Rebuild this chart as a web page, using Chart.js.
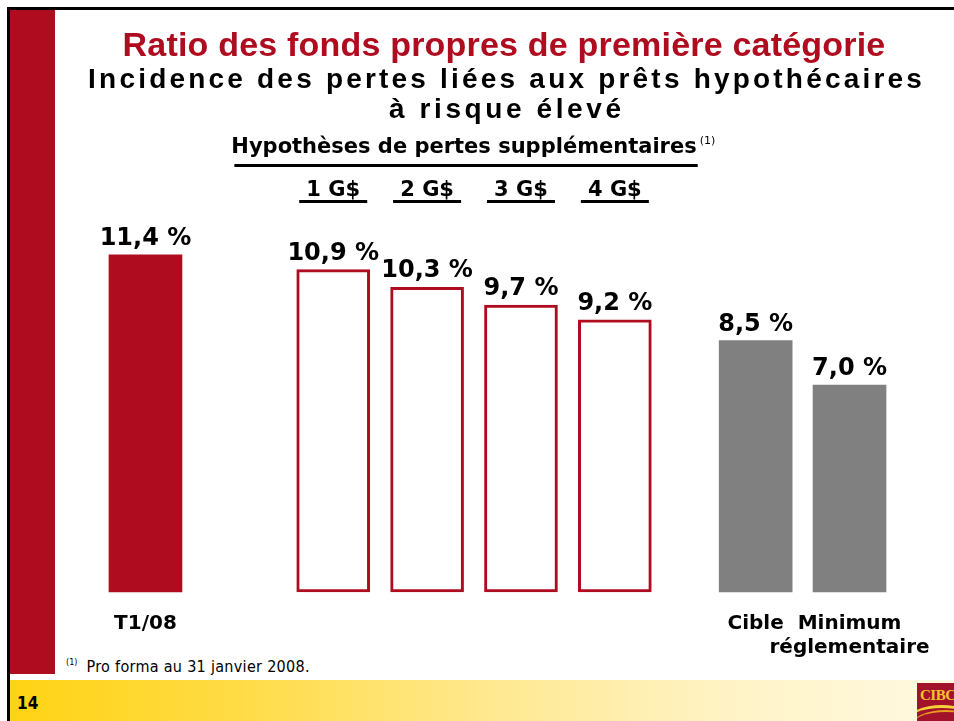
<!DOCTYPE html>
<html><head><meta charset="utf-8">
<script src="https://cdn.jsdelivr.net/npm/chart.js@4/dist/chart.umd.min.js"></script>
<style>
html,body{margin:0;padding:0;background:#fff;width:954px;height:721px;overflow:hidden;position:relative;font-family:"DejaVu Sans",sans-serif}
#frameTop{position:absolute;left:7px;top:7px;width:947px;height:3px;background:#000}
#frameLeft{position:absolute;left:7px;top:7px;width:3px;height:714px;background:#000}
#redBand{position:absolute;left:10px;top:10px;width:45px;height:664px;background:#AF0C1F}
#band{position:absolute;left:10px;top:680px;width:944px;height:41px;background:linear-gradient(to right,#FFD314 0%,#FFDC48 25%,#FFE88E 50%,#FFF3C4 75%,#FFF9E2 100%)}
#pageNo{position:absolute;left:17px;top:693px;font:bold 17px "DejaVu Sans Condensed",sans-serif;color:#000}
#foot{position:absolute;left:66px;top:657px;font:16px "DejaVu Sans Condensed",sans-serif;letter-spacing:0.3px;color:#000;white-space:nowrap}
#foot sup{font-size:9px;vertical-align:top;position:relative;top:0px;margin-right:9px;letter-spacing:0}
#logo{position:absolute;left:917px;top:683px;width:37px;height:38px;background:#A3122B;overflow:hidden}
#logo span{position:absolute;left:3px;top:4px;font:bold 15px "Liberation Serif",serif;color:#F2C230;letter-spacing:-0.5px}
#logo i{position:absolute;left:-10px;top:22px;width:70px;height:30px;border-top:3px solid #F5D23A;border-radius:50%}
#logo b{position:absolute;left:-6px;top:27px;width:70px;height:30px;border-top:2px solid #E8A020;border-radius:50%}
#wrap{position:absolute;left:56px;top:10px;width:898px;height:670px}
</style></head>
<body>
<div id="frameTop"></div><div id="frameLeft"></div><div id="redBand"></div>
<div id="band"></div>
<div id="pageNo">14</div>
<div id="foot"><sup>(1)</sup>Pro forma au 31 janvier 2008.</div>
<div id="logo"><span>CIBC</span><i></i><b></b></div>
<div id="wrap"><canvas id="c"></canvas></div>
<script>
// ---- data ----
const titleLine = 'Ratio des fonds propres de première catégorie';
const subtitleLines = ['Incidence des pertes liées aux prêts hypothécaires', 'à risque élevé'];
const scenarioHeader = 'Hypothèses de pertes supplémentaires';
const scenarioNote = '(1)';
const categories = ['T1/08', '1 G$', '2 G$', '3 G$', '4 G$', 'Cible', ['Minimum', 'réglementaire']];
const ratios = [11.4, 10.9, 10.3, 9.7, 9.2, 8.5, 7.0];
const ratioLabels = ['11,4 %', '10,9 %', '10,3 %', '9,7 %', '9,2 %', '8,5 %', '7,0 %'];
const groups = ['actuel', 'hypothese', 'hypothese', 'hypothese', 'hypothese', 'reference', 'reference'];

// ---- layout / style ----
const emptySlotsBefore = [0, 3, 1, 1, 1, 2, 1];
const RED = '#AF0C1F', GREY = '#808080';
const styleByGroup = {
  actuel:    {bg: RED, border: RED, bw: 0},
  hypothese: {bg: '#FFFFFF', border: RED, bw: 3},
  reference: {bg: GREY, border: GREY, bw: 0}
};

const axisLabels = [], axisData = [], fills = [], strokes = [], widths = [], barIndex = [];
categories.forEach((c, i) => {
  for (let k = 0; k < emptySlotsBefore[i]; k++) {
    axisLabels.push(''); axisData.push(null); fills.push('rgba(0,0,0,0)');
    strokes.push('rgba(0,0,0,0)'); widths.push(0); barIndex.push(-1);
  }
  const s = styleByGroup[groups[i]];
  axisLabels.push(Array.isArray(c) ? c.join(' ') : c);
  axisData.push(ratios[i]); fills.push(s.bg); strokes.push(s.border); widths.push(s.bw); barIndex.push(i);
});

const decor = {
  id: 'decor',
  afterDatasetsDraw(chart) {
    const ctx = chart.ctx;
    const cx = chart.width / 2;
    ctx.save();
    ctx.textAlign = 'center';
    ctx.textBaseline = 'alphabetic';
    // titles
    ctx.fillStyle = RED;
    ctx.font = 'bold 34px "Liberation Sans", Arial, sans-serif';
    ctx.letterSpacing = '0.2px';
    ctx.fillText(titleLine, cx - 1, 46);
    ctx.fillStyle = '#000';
    ctx.font = 'bold 28px "Liberation Sans", Arial, sans-serif';
    ctx.letterSpacing = '3.2px';
    ctx.fillText(subtitleLines[0], cx + 1.6, 78);
    ctx.letterSpacing = '3.6px';
    ctx.fillText(subtitleLines[1], cx + 1.8, 108);
    ctx.letterSpacing = '0px';

    const meta = chart.getDatasetMeta(0);
    const scen = [];
    meta.data.forEach((bar, idx) => {
      const bi = barIndex[idx];
      if (bi < 0) return;
      if (groups[bi] === 'hypothese') scen.push({x: bar.x, label: categories[bi]});
      // value labels
      ctx.fillStyle = '#000';
      ctx.font = 'bold 24px "DejaVu Sans", sans-serif';
      ctx.fillText(ratioLabels[bi], bar.x, bar.y - 10);
    });
    // scenario header
    const hx = (scen[0].x + scen[scen.length - 1].x) / 2 - 10;
    ctx.font = 'bold 21px "DejaVu Sans", sans-serif';
    const hw = ctx.measureText(scenarioHeader).width;
    ctx.fillText(scenarioHeader, hx, 143);
    ctx.fillRect(hx - hw / 2 + 3, 154, hw - 2, 3);
    ctx.font = '11px "DejaVu Sans", sans-serif';
    ctx.textAlign = 'left';
    ctx.fillText(scenarioNote, hx + hw / 2 + 3, 134);
    ctx.textAlign = 'center';
    ctx.font = 'bold 21px "DejaVu Sans", sans-serif';
    scen.forEach(s => {
      ctx.fillText(s.label, s.x, 186);
      ctx.fillRect(s.x - 34, 190, 68, 3);
    });
    ctx.restore();
  }
};

new Chart(document.getElementById('c'), {
  type: 'bar',
  data: {
    labels: axisLabels,
    datasets: [{
      data: axisData,
      backgroundColor: fills,
      borderColor: strokes,
      borderWidth: widths,
      borderSkipped: false,
      barThickness: 73,
      clip: false
    }]
  },
  options: {
    responsive: true,
    maintainAspectRatio: false,
    animation: false,
    devicePixelRatio: 1,
    layout: {padding: {left: 66, right: 81, top: 168, bottom: 0}},
    plugins: {legend: {display: false}, title: {display: false}, tooltip: {enabled: false}},
    scales: {
      y: {display: false, min: 0, max: 14},
      x: {
        offset: true,
        grid: {display: false, drawTicks: false},
        border: {display: false},
        afterFit(scale) { scale.height = 88; },
        ticks: {
          autoSkip: false, maxRotation: 0, minRotation: 0, padding: 20,
          color: '#000',
          font: {family: '"DejaVu Sans", sans-serif', size: 20, weight: 'bold', lineHeight: 1.2},
          callback(v, idx) {
            const bi = barIndex[idx];
            if (bi < 0 || groups[bi] === 'hypothese') return '';
            return categories[bi];
          }
        }
      }
    }
  },
  plugins: [decor]
});
</script>
</body></html>
